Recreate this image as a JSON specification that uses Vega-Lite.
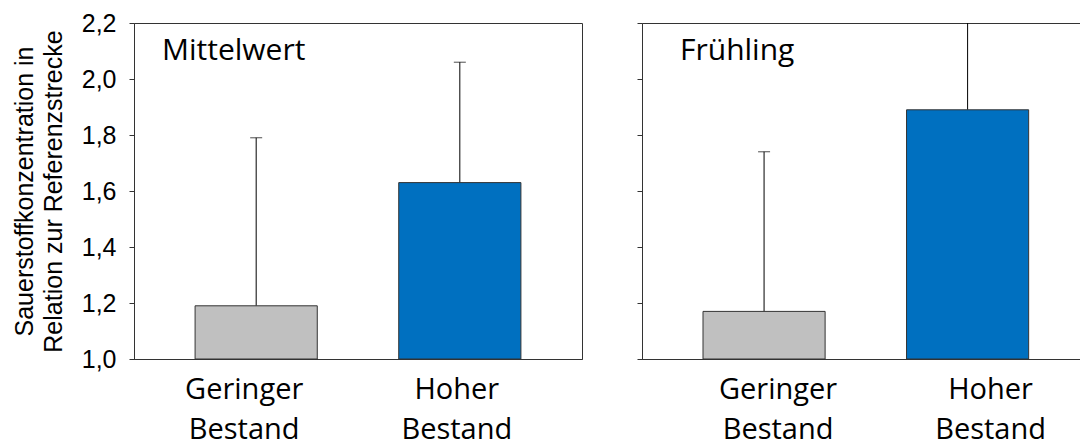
{
  "$schema": "https://vega.github.io/schema/vega-lite/v6.json",
  "background": "white",
  "padding": {"left": 11, "top": 10, "right": 0, "bottom": 0},
  "config": {
    "axis": {"grid": false, "domainColor": "#333333", "tickColor": "#333333", "labelColor": "#000000", "titleColor": "#000000"},
    "view": {"stroke": null}
  },
  "datasets": {
    "werte": [
      {"panel": "Mittelwert", "gruppe": "Geringer Bestand", "mittel": 1.19, "oben": 1.79},
      {"panel": "Mittelwert", "gruppe": "Hoher Bestand", "mittel": 1.63, "oben": 2.06},
      {"panel": "Frühling", "gruppe": "Geringer Bestand", "mittel": 1.17, "oben": 1.74},
      {"panel": "Frühling", "gruppe": "Hoher Bestand", "mittel": 1.89, "oben": 2.35}
    ]
  },
  "spacing": 53,
  "hconcat": [
    {
      "width": 448,
      "height": 336,
      "data": {"name": "werte"},
      "transform": [{"filter": "datum.panel === 'Mittelwert'"}],
      "view": {"stroke": "#333333", "strokeWidth": 1},
      "title": {"text": "Mittelwert", "anchor": "start", "frame": "group", "orient": "top", "baseline": "alphabetic", "offset": -79, "dx": 28, "font": "Open Sans", "fontSize": 30, "fontWeight": "normal", "color": "#000000"},
      "encoding": {
        "x": {
          "field": "gruppe", "type": "nominal", "sort": null,
          "scale": {"paddingInner": 0.4, "paddingOuter": 0.3},
          "axis": {
            "title": null, "ticks": false, "labelAngle": 0, "labelExpr": "split(datum.label, ' ')",
            "labelFont": "Open Sans", "labelFontSize": 29, "labelLineHeight": 40, "labelPadding": 16, "labelBaseline": "top",
            "labelOffset": {"condition": {"test": "datum.value === 'Geringer Bestand'", "value": -12}, "value": -3}
          }
        }
      },
      "layer": [
        {
          "mark": {"type": "rule", "color": "#000000", "strokeWidth": 1, "clip": true},
          "encoding": {"y": {"field": "mittel", "type": "quantitative"}, "y2": {"field": "oben"}}
        },
        {
          "mark": {"type": "bar", "stroke": "#333333", "strokeWidth": 1},
          "encoding": {
            "y": {
              "field": "mittel", "type": "quantitative",
              "scale": {"domain": [1, 2.2], "nice": false, "zero": false},
              "axis": {
                "title": ["Sauerstoffkonzentration in", "Relation zur Referenzstrecke"],
                "titleFont": "Liberation Sans", "titleFontSize": 25, "titleFontWeight": "normal", "titleLineHeight": 29, "titlePadding": 15,
                "values": [1, 1.2, 1.4, 1.6, 1.8, 2, 2.2],
                "labelExpr": "replace(format(datum.value, '.1f'), '.', ',')",
                "labelFont": "Liberation Sans", "labelFontSize": 25, "labelPadding": 13, "tickSize": 5
              }
            },
            "y2": {"datum": 1},
            "color": {"field": "gruppe", "type": "nominal", "legend": null, "scale": {"domain": ["Geringer Bestand", "Hoher Bestand"], "range": ["#C0C0C0", "#0070C0"]}}
          }
        },
        {
          "mark": {"type": "tick", "orient": "horizontal", "color": "#000000", "size": 12, "thickness": 1, "clip": true},
          "encoding": {"y": {"field": "oben", "type": "quantitative"}}
        }
      ]
    },
    {
      "width": 438,
      "height": 336,
      "data": {"name": "werte"},
      "transform": [{"filter": "datum.panel === 'Frühling'"}],
      "view": {"stroke": "#333333", "strokeWidth": 1, "strokeDash": [438, 336, 774, 0]},
      "title": {"text": "Frühling", "anchor": "start", "frame": "group", "orient": "top", "baseline": "alphabetic", "offset": -67, "dx": 38, "font": "Open Sans", "fontSize": 30, "fontWeight": "normal", "color": "#000000"},
      "encoding": {
        "x": {
          "field": "gruppe", "type": "nominal", "sort": null,
          "scale": {"paddingInner": 0.4, "paddingOuter": 0.276, "align": 0.543},
          "axis": {
            "title": null, "ticks": false, "labelAngle": 0, "labelExpr": "split(datum.label, ' ')",
            "labelFont": "Open Sans", "labelFontSize": 29, "labelLineHeight": 40, "labelPadding": 16, "labelBaseline": "top",
            "labelOffset": {"condition": {"test": "datum.value === 'Geringer Bestand'", "value": 14}, "value": 23}
          }
        }
      },
      "layer": [
        {
          "mark": {"type": "rule", "color": "#000000", "strokeWidth": 1, "clip": true},
          "encoding": {"y": {"field": "mittel", "type": "quantitative"}, "y2": {"field": "oben"}}
        },
        {
          "mark": {"type": "bar", "stroke": "#333333", "strokeWidth": 1},
          "encoding": {
            "y": {
              "field": "mittel", "type": "quantitative",
              "scale": {"domain": [1, 2.2], "nice": false, "zero": false},
              "axis": {"title": null, "labels": false, "values": [1, 1.2, 1.4, 1.6, 1.8, 2, 2.2], "tickSize": 5}
            },
            "y2": {"datum": 1},
            "color": {"field": "gruppe", "type": "nominal", "legend": null, "scale": {"domain": ["Geringer Bestand", "Hoher Bestand"], "range": ["#C0C0C0", "#0070C0"]}}
          }
        },
        {
          "mark": {"type": "tick", "orient": "horizontal", "color": "#000000", "size": 12, "thickness": 1, "clip": true},
          "encoding": {"y": {"field": "oben", "type": "quantitative"}}
        }
      ]
    }
  ]
}
